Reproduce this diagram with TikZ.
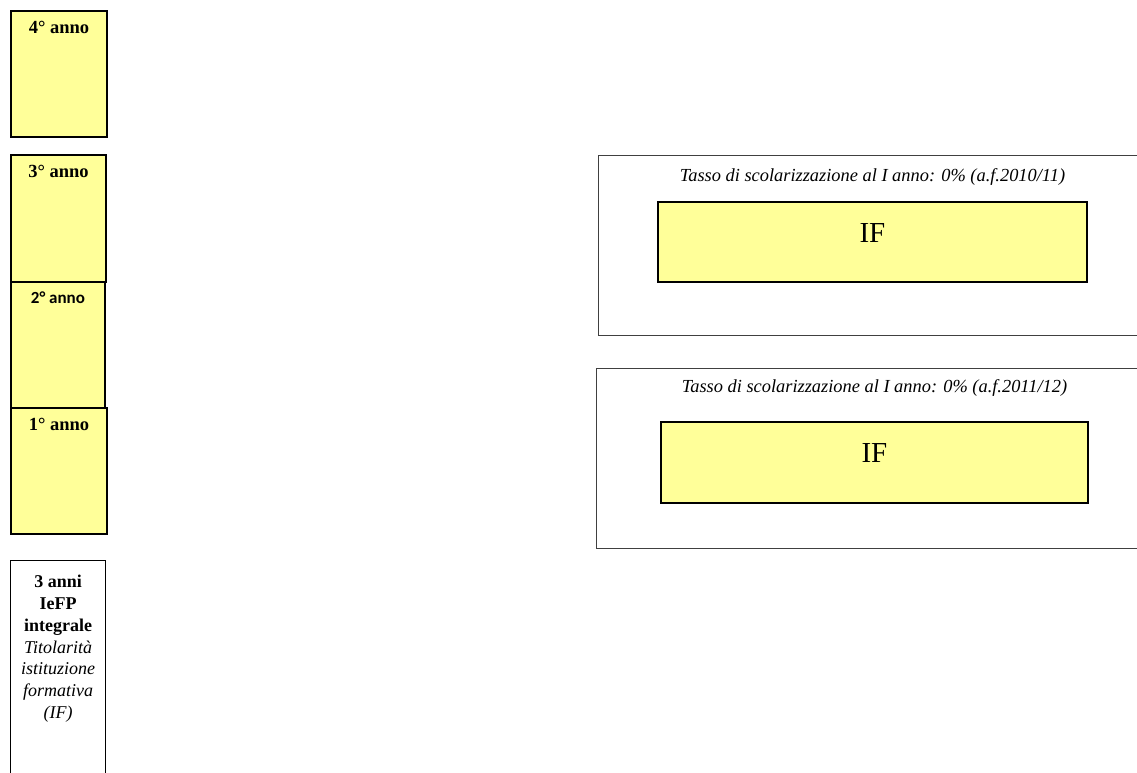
\documentclass[tikz,border=0pt]{standalone}
\usepackage{fontspec}
\setmainfont{Liberation Serif}
\newfontfamily\calibrifont{Carlito}
\definecolor{annoyellow}{RGB}{255,255,153}

\def \boxLine {1.9pt}

\begin{document}
\begin{tikzpicture}[x=1pt, y=-1pt,
    annobox/.style={draw, line width=\boxLine, fill=annoyellow, anchor=north west, inner sep=0pt},
    annolabel/.style={anchor=north, inner sep=0pt, font=\fontsize{18.5}{20}\selectfont\bfseries},
    framebox/.style={draw=black!75, line width=1.3pt, anchor=north west, inner sep=0pt},
    ifbox/.style={draw, line width=\boxLine, fill=annoyellow, anchor=north west, inner sep=0pt},
    iflabel/.style={anchor=north, inner sep=0pt, font=\fontsize{29}{32}\selectfont},
    tasso/.style={anchor=base, inner sep=0pt, font=\fontsize{18.4}{20}\selectfont\itshape}]
   \useasboundingbox (0, 0) rectangle (1137, 772);

   % colonna degli anni
   \node[annobox, minimum width=96pt, minimum height=126pt] (anno4) at (10, 10) {};
   \node[annobox, minimum width=95pt, minimum height=127pt] (anno3) at (10, 154) {};
   \node[annobox, minimum width=94pt, minimum height=126pt] (anno2) at (10, 281) {};
   \node[annobox, minimum width=96pt, minimum height=126pt] (anno1) at (10, 407) {};
   \node[annolabel] (lab4) at ([yshift=-11pt]anno4.north) {4° anno};
   \node[annolabel] (lab3) at ([yshift=-11pt]anno3.north) {3° anno};
   \node[annolabel, font=\fontsize{17}{20}\selectfont\calibrifont\bfseries] (lab2) at ([yshift=-11pt]anno2.north) {2° anno};
   \node[annolabel] (lab1) at ([yshift=-11pt]anno1.north) {1° anno};

   % percorso IeFP
   \node[draw, line width=1.3pt, anchor=north west, inner sep=0pt, minimum width=95pt, minimum height=240pt] (iefp) at (10, 560) {};
   \node[anchor=north, inner sep=0pt, align=center, font=\fontsize{18}{21.8}\selectfont] (iefptxt) at ([yshift=-15pt]iefp.north)
      {\textbf{3 anni}\\ \textbf{IeFP}\\ \textbf{integrale}\\ \textit{Titolarità}\\ \textit{istituzione}\\ \textit{formativa}\\ \textit{(IF)}};

   % tassi di scolarizzazione
   \node[framebox, minimum width=560pt, minimum height=180pt] (frame1) at (598, 155) {};
   \node[ifbox, minimum width=429pt, minimum height=80pt] (if1) at (657, 201) {};
   \node[tasso] (tasso1) at ([yshift=20pt]if1.north) {Tasso di scolarizzazione al I anno: 0\% (a.f.2010/11)};
   \node[iflabel] (iftxt1) at ([yshift=-22pt]if1.north) {IF};

   \node[framebox, minimum width=560pt, minimum height=180pt] (frame2) at (596, 368) {};
   \node[ifbox, minimum width=427pt, minimum height=81pt] (if2) at (660, 421) {};
   \node[tasso] (tasso2) at ([yshift=29pt]if2.north) {Tasso di scolarizzazione al I anno: 0\% (a.f.2011/12)};
   \node[iflabel] (iftxt2) at ([yshift=-22pt]if2.north) {IF};
\end{tikzpicture}
\end{document}
